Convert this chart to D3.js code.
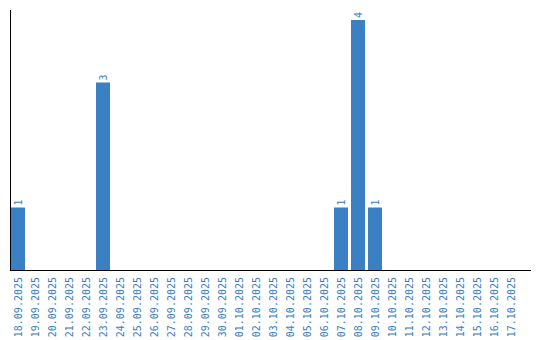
<!DOCTYPE html>
<html lang="en">
<head>
    <meta charset="UTF-8">
    <title>Daily counts</title>
    <script type="text/javascript" src="https://cdn.jsdelivr.net/npm/d3@7"></script>
    <style>
        body { margin: 0; background: #fff; }
        text { font-family: "DejaVu Sans Mono", monospace; font-size: 10px; fill: #3a7dc2; }
    </style>
</head>
<body>
    <script type="text/javascript">
        var dates = ["18.09.2025", "19.09.2025", "20.09.2025", "21.09.2025", "22.09.2025",
            "23.09.2025", "24.09.2025", "25.09.2025", "26.09.2025", "27.09.2025",
            "28.09.2025", "29.09.2025", "30.09.2025", "01.10.2025", "02.10.2025",
            "03.10.2025", "04.10.2025", "05.10.2025", "06.10.2025", "07.10.2025",
            "08.10.2025", "09.10.2025", "10.10.2025", "11.10.2025", "12.10.2025",
            "13.10.2025", "14.10.2025", "15.10.2025", "16.10.2025", "17.10.2025"];
        var counts = [1, 0, 0, 0, 0, 3, 0, 0, 0, 0, 0, 0, 0, 0, 0,
            0, 0, 0, 0, 1, 4, 1, 0, 0, 0, 0, 0, 0, 0, 0];

        var w = 540, h = 340;
        var barColor = "#3b7fc4";

        var svg = d3.select("body").append("svg")
            .attr("width", w)
            .attr("height", h);

        var xScale = d3.scaleBand()
            .domain(dates)
            .range([11, 518])
            .paddingInner(3 / 17)
            .paddingOuter(0);

        var yScale = d3.scaleLinear()
            .domain([0, 4])
            .range([270, 20]);

        var data = dates.map(function(d, i) { return {date: d, value: counts[i]}; });

        svg.selectAll("rect.bar")
            .data(data.filter(function(d) { return d.value > 0; }))
            .enter()
            .append("rect")
            .attr("class", "bar")
            .attr("x", function(d) { return xScale(d.date); })
            .attr("y", function(d) { return yScale(d.value); })
            .attr("width", xScale.bandwidth())
            .attr("height", function(d) { return yScale(0) - yScale(d.value); })
            .attr("fill", barColor);

        // value labels, rotated like the date labels
        svg.selectAll("text.val")
            .data(data.filter(function(d) { return d.value > 0; }))
            .enter()
            .append("text")
            .attr("class", "val")
            .attr("transform", function(d) {
                return "translate(" + (xScale(d.date) + xScale.bandwidth() / 2) + "," + (yScale(d.value) - 2) + ") rotate(-90)";
            })
            .attr("dy", "0.35em")
            .attr("text-anchor", "start")
            .text(function(d) { return d.value; });

        // date labels
        svg.selectAll("text.tick")
            .data(dates)
            .enter()
            .append("text")
            .attr("class", "tick")
            .attr("transform", function(d) {
                return "translate(" + (xScale(d) + xScale.bandwidth() / 2) + ",277) rotate(-90)";
            })
            .attr("dy", "0.35em")
            .attr("text-anchor", "end")
            .text(function(d) { return d; });

        // axis lines
        svg.append("line")
            .attr("x1", 10.5).attr("x2", 10.5)
            .attr("y1", 10).attr("y2", 270)
            .attr("stroke", "#000");
        svg.append("line")
            .attr("x1", 10).attr("x2", 531)
            .attr("y1", 270.5).attr("y2", 270.5)
            .attr("stroke", "#000");
    </script>
</body>
</html>
